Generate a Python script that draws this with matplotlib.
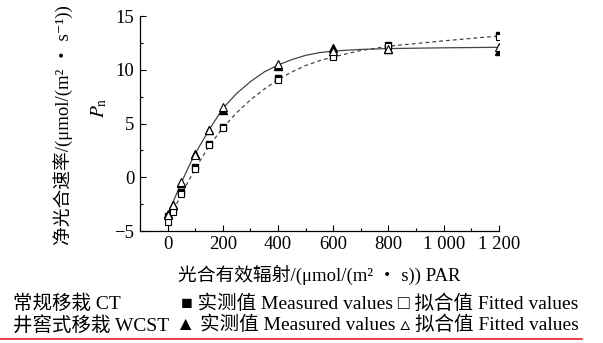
import matplotlib.pyplot as plt
from matplotlib.ticker import MultipleLocator, FixedLocator

plt.rcParams['font.family'] = ['Liberation Serif', 'Noto Sans CJK SC', 'DejaVu Sans']
plt.rcParams['mathtext.fontset'] = 'stix'

# measured PAR levels
par = [0, 20, 50, 100, 150, 200, 400, 600, 800, 1200]

# CT: conventional transplanting
ct_measured = [-3.6, -3.0, -1.4, 1.0, 3.1, 4.7, 9.2, 11.3, 12.3, 13.2]
ct_fitted = [-4.2, -3.2, -1.6, 0.8, 3.0, 4.6, 9.1, 11.2, 12.2, 13.1]

# WCST: well-cellar transplanting
wcst_measured = [-3.4, -2.6, -0.5, 2.2, 4.4, 6.3, 10.4, 12.0, 11.9, 11.8]
wcst_fitted = [-3.5, -2.6, -0.4, 2.1, 4.4, 6.5, 10.5, 11.8, 11.9, 12.1]

# fitted curves
curve_x = [0, 25, 50, 75, 100, 150, 200, 250, 300, 350, 400, 450, 500, 550, 600, 700, 800, 1000, 1200]
ct_curve = [-4.2, -2.9, -1.6, -0.4, 0.8, 2.9, 4.6, 6.0, 7.2, 8.2, 9.1, 9.8, 10.4, 10.85, 11.2, 11.8, 12.2, 12.7, 13.15]
wcst_curve = [-3.5, -2.0, -0.5, 0.9, 2.2, 4.4, 6.4, 7.8, 8.9, 9.8, 10.45, 10.95, 11.35, 11.6, 11.75, 11.9, 11.98, 12.05, 12.1]

xticks = [0, 200, 400, 600, 800, 1000, 1200]
xticklabels = ['0', '200', '400', '600', '800', '1 000', '1 200']

fig = plt.figure(figsize=(6.03, 3.43), dpi=100)
ax = fig.add_axes([0.232, 0.3265, 0.5955, 0.6265])

ax.plot(curve_x, ct_curve, color='#444444', lw=0.9, ls=(0, (3, 2.5)), zorder=1)
ax.plot(curve_x, wcst_curve, color='#444444', lw=0.9, zorder=1)

ms = 5
ax.plot(par, ct_measured, ls='none', marker='s', ms=ms, color='black', zorder=2)
ax.plot(par, wcst_measured, ls='none', marker='^', ms=ms + 1, color='black', zorder=2)
ax.plot(par, ct_fitted, ls='none', marker='s', ms=ms, mfc='white', mec='black', mew=0.8, zorder=3)
ax.plot(par, wcst_fitted, ls='none', marker='^', ms=ms + 1, mfc='white', mec='black', mew=0.8, zorder=3)

ax.set_xlim(-100, 1200)
ax.set_ylim(-5, 15)
ax.set_xticks(xticks)
ax.set_xticklabels(xticklabels)
ax.xaxis.set_minor_locator(FixedLocator([100, 300, 500, 700, 900, 1100]))
ax.yaxis.set_major_locator(MultipleLocator(5))
ax.yaxis.set_minor_locator(MultipleLocator(2.5))
ax.tick_params(which='both', direction='in', labelsize=13.5, width=0.8)
ax.tick_params(which='major', length=4)
ax.tick_params(which='minor', length=2.5)
ax.tick_params(axis='y', pad=4)
for s in ['top', 'right']:
    ax.spines[s].set_visible(False)
for s in ['left', 'bottom']:
    ax.spines[s].set_linewidth(0.9)

fs = 14
fig.text(0.529, 0.198, '光合有效辐射/(μmol/(m² ・ s)) PAR', fontsize=fs - 0.5,
         ha='center', va='center')
fig.text(0.104, 0.636, '净光合速率/(μmol/(m² ・ s⁻¹))', rotation=90,
         fontsize=fs - 0.5, ha='center', va='center')
fig.text(0.165, 0.685, '$P_{\\mathrm{n}}$', rotation=90, fontsize=fs,
         ha='center', va='center')

fig.text(0.022, 0.114, '常规移栽 CT', fontsize=fs, va='center')
fig.text(0.300, 0.114, '■ 实测值 Measured values □ 拟合值 Fitted values', fontsize=fs, va='center')
fig.text(0.022, 0.052, '井窖式移栽 WCST', fontsize=fs, va='center')
fig.text(0.292, 0.052, '▲ 实测值 Measured values ▵ 拟合值 Fitted values', fontsize=fs, va='center')

fig.add_artist(plt.Line2D([0, 0.965], [0.012, 0.012], color='#e8202a', lw=1.2))

fig.savefig('out.png', dpi=100)
